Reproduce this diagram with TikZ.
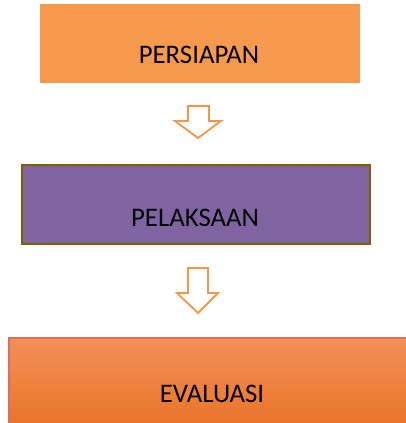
\documentclass[tikz,border=0pt]{standalone}
\usepackage{fontspec}
\setmainfont{Carlito}
\definecolor{prepfill}{HTML}{F79A4E}
\definecolor{execfill}{HTML}{8064A2}
\definecolor{execline}{HTML}{7F6000}
\definecolor{evaltop}{HTML}{F38F58}
\definecolor{evalbot}{HTML}{E8701F}
\definecolor{evalline}{HTML}{D9705C}
\definecolor{arrowline}{HTML}{F79646}
\tikzset{
  stagelabel/.style={anchor=base, inner sep=0pt, font=\fontsize{26.8}{32}\selectfont, text=black},
  blockarrow/.style={draw=arrowline, line width=1.8pt, fill=white, line join=miter}
}
\begin{document}
\begin{tikzpicture}[x=1pt, y=-1pt]
\useasboundingbox (0,0) rectangle (406,423);
\clip (0,0) rectangle (406,423);
% stage boxes
\fill[prepfill] (40,4) rectangle (360,83);
\draw[fill=execfill, draw=execline, line width=2.2pt] (22,165) rectangle (370,244);
\draw[top color=evaltop, bottom color=evalbot, draw=evalline, line width=1.6pt] (9,338) rectangle (420,440);
% stage titles
\node[stagelabel] (prep) at (199,63.5) {PERSIAPAN};
\node[stagelabel] (exec) at (195,226) {PELAKSAAN};
\node[stagelabel] (eval) at (212,402) {EVALUASI};
% hollow down arrows between stages
\draw[blockarrow] (188,106) -- (209,106) -- (209,121) -- (221,121) -- (198,138)
  -- (175,121) -- (188,121) -- cycle;
\draw[blockarrow] (188,268) -- (208,268) -- (208,293) -- (218,293) -- (198,313)
  -- (177,293) -- (188,293) -- cycle;
\end{tikzpicture}
\end{document}
